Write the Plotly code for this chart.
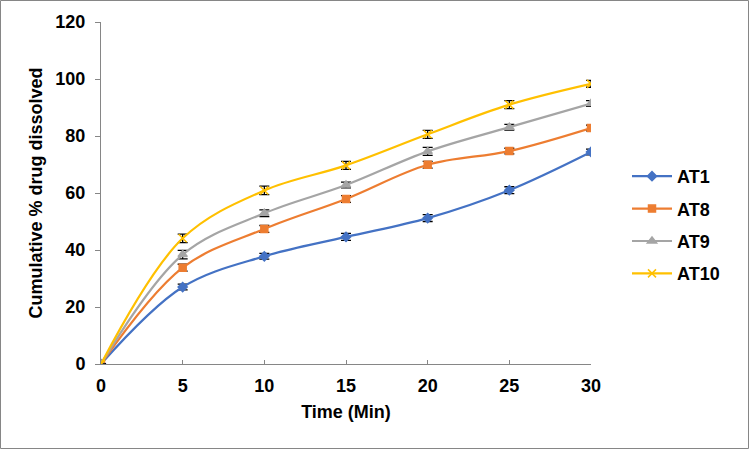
import plotly.graph_objects as go

time_min = [0, 5, 10, 15, 20, 25, 30]
series_names = ["AT1", "AT8", "AT9", "AT10"]
at1 = [0, 27.0, 37.8, 44.6, 51.2, 61.0, 74.4]
at8 = [0, 33.8, 47.4, 57.9, 69.9, 74.7, 82.8]
at9 = [0, 38.4, 52.9, 62.8, 74.6, 83.1, 91.4]
at10 = [0, 44.1, 60.9, 69.7, 80.6, 91.0, 98.3]
err1 = [0, 1.0, 1.0, 1.2, 1.2, 1.2, 1.0]
err8 = [0, 1.2, 1.2, 1.2, 1.2, 1.0, 1.0]
err9 = [0, 1.5, 1.2, 1.0, 1.4, 1.0, 1.0]
err10 = [0, 1.5, 1.5, 1.4, 1.4, 1.4, 1.2]

colors = ["#4472C4", "#ED7D31", "#A5A5A5", "#FFC000"]
symbols = ["diamond", "square", "triangle-up", "x-thin"]
sizes = [7, 7, 8, 8]
values = [at1, at8, at9, at10]
errors = [err1, err8, err9, err10]

fig = go.Figure()
for i, name in enumerate(series_names):
    fig.add_trace(go.Scatter(
        x=time_min, y=values[i], name=name, mode="lines+markers",
        line=dict(color=colors[i], width=2.2, shape="spline", smoothing=1),
        marker=dict(symbol=symbols[i], size=sizes[i], color=colors[i],
                    line=dict(color=colors[i], width=1.5)),
        error_y=dict(type="data", array=errors[i], visible=True,
                     color="black", thickness=1.3, width=5),
        legendgroup=name,
    ))

W, H = 750, 450
ml, mr, mt, mb = 101, 159, 22, 86
pw, ph = W - ml - mr, H - mt - mb
FONT = "Liberation Sans, Arial, sans-serif"

fig.update_layout(
    width=W, height=H,
    margin=dict(l=ml, r=mr, t=mt, b=mb),
    paper_bgcolor="white", plot_bgcolor="white",
    font=dict(family=FONT, size=18, color="black"),
    showlegend=True,
    legend=dict(x=(627 - ml) / pw, xanchor="left", y=(364 - 225) / ph, yanchor="middle",
                font=dict(size=18, family=FONT, weight="bold"),
                tracegroupgap=6, itemwidth=40, bgcolor="rgba(0,0,0,0)"),
    xaxis=dict(range=[0, 30], tickvals=time_min, showgrid=False, zeroline=False,
               showline=True, linecolor="#868686", linewidth=1,
               ticks="inside", ticklen=4, tickcolor="#868686",
               ticklabelstandoff=5,
               tickfont=dict(size=18, weight="bold"),
               title=dict(text="<b>Time (Min)</b>", font=dict(size=18), standoff=10)),
    yaxis=dict(range=[0, 120], dtick=20, showgrid=False, zeroline=False,
               showline=True, linecolor="#868686", linewidth=1,
               ticks="outside", ticklen=5, tickcolor="#868686",
               ticklabelstandoff=6,
               tickfont=dict(size=18, weight="bold"),
               title=dict(text="<b>Cumulative % drug dissolved</b>", font=dict(size=18), standoff=8)),
    shapes=[dict(type="rect", xref="paper", yref="paper",
                 x0=-(ml - 0.5) / pw, x1=1 + (mr - 1.5) / pw,
                 y0=-(mb - 1.5) / ph, y1=1 + (mt - 0.5) / ph,
                 line=dict(color="#868686", width=1), layer="below")],
)

fig.write_html("out.html", config={"displayModeBar": False},
               post_script="document.body.style.margin='0';")
